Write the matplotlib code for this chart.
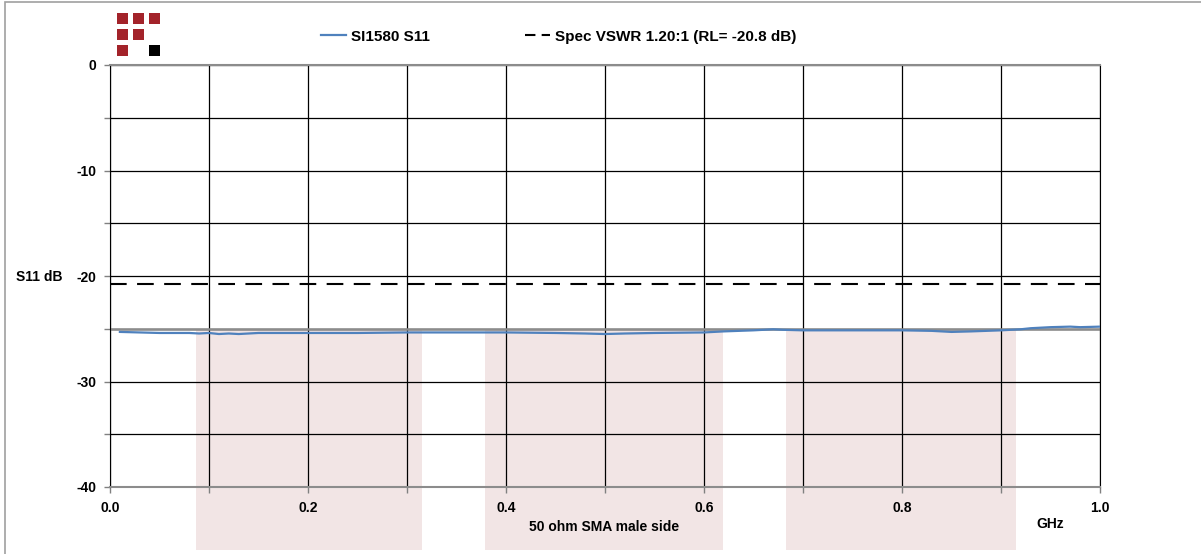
# S11 return loss plot, 50 ohm SMA male side
import matplotlib.pyplot as plt
from matplotlib.patches import Rectangle

plt.rcParams['font.family'] = ['Liberation Sans', 'DejaVu Sans']
plt.rcParams['font.weight'] = 'bold'
plt.rcParams['font.size'] = 10

freq_ghz = [0.01, 0.03, 0.05, 0.08, 0.09, 0.10, 0.11, 0.12, 0.13, 0.14, 0.15,
            0.20, 0.25, 0.30, 0.35, 0.40, 0.45, 0.48, 0.50, 0.52, 0.55, 0.60,
            0.62, 0.65, 0.66, 0.67, 0.68, 0.70, 0.75, 0.80, 0.83, 0.85, 0.87,
            0.90, 0.92, 0.93, 0.95, 0.97, 0.98, 1.00]
s11_db = [-25.3, -25.35, -25.4, -25.4, -25.45, -25.4, -25.5, -25.45, -25.5, -25.45, -25.4,
          -25.4, -25.4, -25.35, -25.35, -25.35, -25.4, -25.45, -25.5, -25.45, -25.4, -25.35,
          -25.25, -25.15, -25.1, -25.05, -25.1, -25.15, -25.15, -25.15, -25.2, -25.3, -25.25,
          -25.15, -25.05, -24.95, -24.85, -24.8, -24.85, -24.8]
spec_rl = -20.8
bands = [(0.087, 0.315), (0.379, 0.619), (0.683, 0.915)]
band_top = -25

fig = plt.figure(figsize=(12.01, 5.54), dpi=100)
ax = fig.add_axes([110 / 1201, 1 - 487 / 554, 990 / 1201, 422 / 554])

# pink background bands, run down past the axes
for x0, x1 in bands:
    ax.add_patch(Rectangle((x0, band_top), x1 - x0, -21, facecolor='#f2e5e5',
                           edgecolor='none', clip_on=False, zorder=0.8))

ax.axhline(band_top, color='#8c8c8c', lw=1.8, zorder=1.6)
ax.plot(freq_ghz, s11_db, color='#4f81bd', lw=1.6, label='SI1580 S11', zorder=3)
ax.plot([0, 1], [spec_rl, spec_rl], color='black', lw=1.5, dashes=(8, 5),
        label='Spec VSWR 1.20:1 (RL= -20.8 dB)', zorder=3)

ax.set_xlim(0, 1)
ax.set_ylim(-40, 0)
ax.set_xticks([i / 10 for i in range(11)])
ax.set_xticklabels(['0.0' if i == 0 else (f'{i/10:.1f}' if i % 2 == 0 else '') for i in range(11)])
ax.set_yticks(list(range(-40, 1, 5)))
ax.set_yticklabels([str(v) if v % 10 == 0 else '' for v in range(-40, 1, 5)])
ax.tick_params(length=4, width=1, color='#808080', pad=6)
ax.grid(True, color='black', lw=0.9)
for s in ['top', 'bottom']:
    ax.spines[s].set_color('#8c8c8c')
    ax.spines[s].set_linewidth(1.5)
for s in ['left', 'right']:
    ax.spines[s].set_color('black')

leg = fig.legend(loc='upper left', bbox_to_anchor=(307 / 1201, 1 - 16 / 554), ncol=2,
                 frameon=False, handlelength=1.65, handletextpad=0.35, columnspacing=6.2,
                 fontsize=11)
leg.get_lines()[1].set_dashes((5, 3))

fig.text(62 / 1201, 1 - 277 / 554, 'S11 dB', ha='right', va='center')
fig.text(1050 / 1201, 1 - 524 / 554, 'GHz', ha='center', va='center')
fig.text(604 / 1201, 1 - 527 / 554, '50 ohm SMA male side', ha='center', va='center')

# logo squares
logo = [(117, 13, '#a3232a'), (133, 13, '#a3232a'), (149, 13, '#a3232a'),
        (117, 29, '#a3232a'), (133, 29, '#a3232a'),
        (117, 45, '#a3232a'), (149, 45, '#000000')]
for px, py, c in logo:
    fig.add_artist(Rectangle((px / 1201, 1 - (py + 11) / 554), 11 / 1201, 11 / 554,
                             facecolor=c, edgecolor='none', transform=fig.transFigure))

# outer frame
fig.add_artist(Rectangle((5 / 1201, -0.01), 1.1, 1 - 2 / 554 + 0.01, fill=False,
                         edgecolor='#a0a0a0', lw=1.2, transform=fig.transFigure))

fig.savefig('out.png', dpi=100)
